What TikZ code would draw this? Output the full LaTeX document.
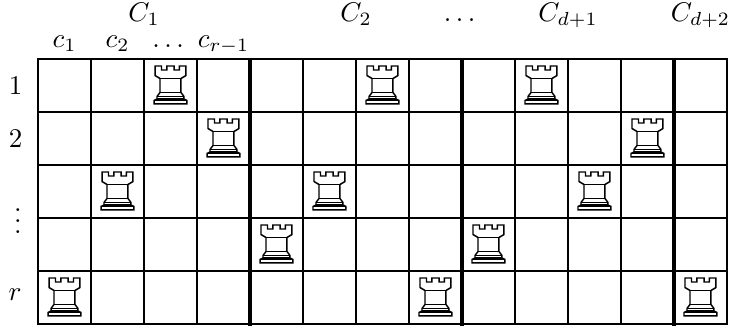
\documentclass[tikz,border=0pt]{standalone}
\usepackage{amsmath}
\usepackage{graphicx}
\newcommand\mylab[1]{\scalebox{1.45}{$#1$}}
\begin{document}
\begin{tikzpicture}[x=1cm,y=1cm,
  lbl/.style={inner sep=0pt},
  gridline/.style={line width=1pt},
  heavy/.style={line width=1.9pt},
  rook/.pic={
    \begin{scope}[scale=1/53, line width=0.8pt, line join=miter]
      \draw[fill=white] (-15.5,19.5) -- (-9,19.5) -- (-9,15.5) -- (-3.7,15.5) -- (-3.7,19.5)
        -- (3.7,19.5) -- (3.7,15.5) -- (9,15.5) -- (9,19.5) -- (15.5,19.5) -- (15.5,10)
        -- (10.5,7) -- (10.5,-7) -- (13.5,-11) -- (13.5,-13.5) -- (16.5,-15) -- (16.5,-18.5)
        -- (-16.5,-18.5) -- (-16.5,-15) -- (-13.5,-13.5) -- (-13.5,-11) -- (-10.5,-7)
        -- (-10.5,7) -- (-15.5,10) -- cycle;
      \begin{scope}[line width=0.6pt]
        \draw (-10.5,7) -- (10.5,7);
        \draw (-10.5,-7) -- (10.5,-7);
        \draw (-13.5,-11) -- (13.5,-11);
        \draw (-13.5,-13.5) -- (13.5,-13.5);
        \draw (-16.5,-15) -- (16.5,-15);
      \end{scope}
    \end{scope}
  }
]
\useasboundingbox (-0.717,1.113) rectangle (13.057,-5.094);

% grid
\draw[gridline] (0,0) grid (13,-5);
\draw[gridline] (0,0) rectangle (13,-5);
\foreach \x in {4,8,12}
  \draw[heavy] (\x,0) -- (\x,-5.03);

% rooks
\foreach \c/\r in {3/1,7/1,10/1,4/2,12/2,2/3,6/3,11/3,5/4,9/4,1/5,8/5,13/5}
  \pic (rk\c-\r) at (\c-0.5,-\r+0.5) {rook};

% row labels
\node[lbl] (row1) at (-0.42,-0.5) {\mylab{1}};
\node[lbl] (row2) at (-0.42,-1.5) {\mylab{2}};
\node[lbl,anchor=base] (rowd) at (-0.38,-3.29) {\mylab{\vdots}};
\node[lbl] (rowr) at (-0.43,-4.45) {\mylab{r}};

% column labels
\node[lbl,anchor=base] (c1) at (0.5,0.21) {\mylab{c_1}};
\node[lbl,anchor=base] (c2) at (1.5,0.21) {\mylab{c_2}};
\node[lbl,anchor=base] (cdots) at (2.5,0.21) {\mylab{\dots}};
\node[lbl,anchor=base] (crm) at (3.5,0.21) {\mylab{c_{r-1}}};

% group labels
\node[lbl,anchor=base] (C1) at (2,0.70) {\mylab{C_1}};
\node[lbl,anchor=base] (C2) at (6,0.70) {\mylab{C_2}};
\node[lbl,anchor=base] (Cdots) at (8,0.70) {\mylab{\dots}};
\node[lbl,anchor=base] (Cd1) at (10,0.70) {\mylab{C_{d+1}}};
\node[lbl,anchor=base] (Cd2) at (12.5,0.70) {\mylab{C_{d+2}}};
\end{tikzpicture}
\end{document}
